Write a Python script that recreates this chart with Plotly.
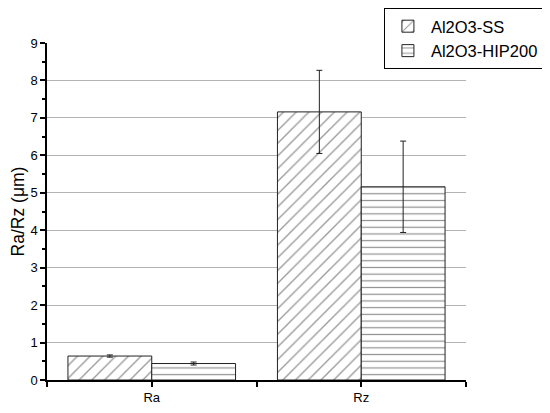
import plotly.graph_objects as go

categories = ["Ra", "Rz"]
series_names = ["Al2O3-SS", "Al2O3-HIP200"]
ss_values = [0.64, 7.16]
ss_errors = [0.03, 1.11]
hip_values = [0.44, 5.16]
hip_errors = [0.04, 1.22]

positions = list(range(len(categories)))
font_family = "Arial, Liberation Sans, sans-serif"

fig = go.Figure()

fig.add_trace(go.Bar(
    x=positions, y=ss_values, name=series_names[0],
    error_y=dict(type="data", array=ss_errors, color="#222222", thickness=1, width=3),
    marker=dict(color="white", line=dict(color="#222222", width=1),
                pattern=dict(shape="/", size=9, solidity=0.15, fgcolor="#333333", bgcolor="white"))))

fig.add_trace(go.Bar(
    x=positions, y=hip_values, name=series_names[1],
    error_y=dict(type="data", array=hip_errors, color="#222222", thickness=1, width=3),
    marker=dict(color="white", line=dict(color="#222222", width=1),
                pattern=dict(shape="-", size=6.7, solidity=0.18, fgcolor="#222222", bgcolor="white"))))

fig.update_xaxes(
    range=[-0.5, len(categories) - 0.5],
    tickvals=[p / 2 - 0.5 for p in range(2 * len(categories) + 1)],
    ticktext=["" if i % 2 == 0 else categories[i // 2] for i in range(2 * len(categories) + 1)],
    showline=True, linecolor="black", linewidth=1.5,
    ticks="outside", ticklen=5, tickcolor="black", tickwidth=1.5,
    showgrid=False, zeroline=False, automargin=False,
    tickfont=dict(size=13, color="black"))

fig.update_yaxes(
    range=[0, 9], dtick=1, tick0=0,
    title=dict(text="Ra/Rz (μm)", font=dict(size=17.5, color="black"), standoff=6),
    showline=True, linecolor="black", linewidth=1.5,
    ticks="outside", ticklen=5, tickcolor="black", tickwidth=1.5,
    minor=dict(dtick=0.5, ticks="outside", ticklen=3, tickcolor="black", showgrid=False),
    showgrid=True, gridcolor="#b4b4b4", gridwidth=1, zeroline=False, automargin=True,
    tickfont=dict(size=13, color="black"))

# the page body adds an 8px offset, so the figure is drawn 8px smaller
fig.update_layout(
    width=542, height=405,
    barmode="group", bargap=0.2, bargroupgap=0,
    plot_bgcolor="white", paper_bgcolor="white",
    font=dict(family=font_family, color="black"),
    margin=dict(l=39, r=84, t=35, b=33, autoexpand=False),
    legend=dict(x=1.186, y=1.104, xanchor="right", yanchor="top",
                bordercolor="black", borderwidth=1, bgcolor="white",
                font=dict(size=16.5, color="black"), tracegroupgap=0,
                itemwidth=36),
    showlegend=True)

fig.write_html("out.html")
